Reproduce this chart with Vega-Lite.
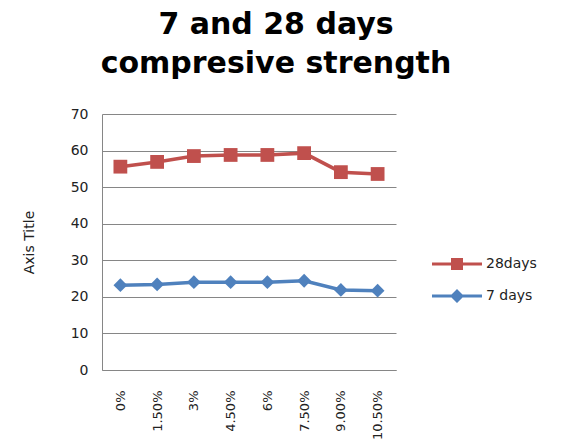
{
  "$schema": "https://vega.github.io/schema/vega-lite/v6.json",
  "width": 294,
  "height": 256,
  "autosize": {"type": "none"},
  "padding": {"left": 102, "top": 114, "right": 170, "bottom": 76},
  "background": "white",
  "view": {"stroke": null},
  "title": {
    "text": ["7 and 28 days", "compresive strength"],
    "font": "DejaVu Sans",
    "fontSize": 30,
    "fontWeight": "bold",
    "color": "#000000",
    "lineHeight": 39,
    "anchor": "middle",
    "dx": 27,
    "offset": 28
  },
  "data": {
    "values": [
      {"pct": "0%", "series": "28days", "value": 55.6},
      {"pct": "1.50%", "series": "28days", "value": 56.9},
      {"pct": "3%", "series": "28days", "value": 58.5},
      {"pct": "4.50%", "series": "28days", "value": 58.8},
      {"pct": "6%", "series": "28days", "value": 58.8},
      {"pct": "7.50%", "series": "28days", "value": 59.3},
      {"pct": "9.00%", "series": "28days", "value": 54.1},
      {"pct": "10.50%", "series": "28days", "value": 53.6},
      {"pct": "0%", "series": "7 days", "value": 23.2},
      {"pct": "1.50%", "series": "7 days", "value": 23.4},
      {"pct": "3%", "series": "7 days", "value": 24.0},
      {"pct": "4.50%", "series": "7 days", "value": 24.0},
      {"pct": "6%", "series": "7 days", "value": 24.0},
      {"pct": "7.50%", "series": "7 days", "value": 24.4},
      {"pct": "9.00%", "series": "7 days", "value": 21.9},
      {"pct": "10.50%", "series": "7 days", "value": 21.7}
    ]
  },
  "encoding": {
    "x": {
      "field": "pct",
      "type": "ordinal",
      "sort": null,
      "scale": {"type": "point", "padding": 0.5},
      "axis": {
        "title": null,
        "labelAngle": -90,
        "labelFont": "DejaVu Sans",
        "labelFontSize": 13,
        "labelColor": "#222222",
        "labelPadding": 20,
        "ticks": false,
        "domainColor": "#868686",
        "grid": false
      }
    },
    "y": {
      "field": "value",
      "type": "quantitative",
      "scale": {"domain": [0, 70], "nice": false},
      "axis": {
        "title": "Axis Title",
        "titleFont": "DejaVu Sans",
        "titleFontSize": 14,
        "titleFontWeight": "normal",
        "titleColor": "#222222",
        "titlePadding": 34,
        "values": [0, 10, 20, 30, 40, 50, 60, 70],
        "labelFont": "DejaVu Sans",
        "labelFontSize": 14,
        "labelColor": "#222222",
        "labelPadding": 14,
        "ticks": false,
        "domainColor": "#868686",
        "gridColor": "#868686",
        "gridWidth": 1
      }
    },
    "color": {
      "field": "series",
      "type": "nominal",
      "sort": ["28days", "7 days"],
      "scale": {"domain": ["28days", "7 days"], "range": ["#C0504D", "#4F81BD"]},
      "legend": {
        "title": null,
        "orient": "none",
        "legendX": 330,
        "legendY": 125,
        "labelFont": "DejaVu Sans",
        "labelFontSize": 14,
        "labelColor": "#222222",
        "labelOffset": 4,
        "symbolSize": 2500,
        "symbolStrokeWidth": 0,
        "rowPadding": -9,
        "encode": {
          "symbols": {
            "update": {
              "shape": {"signal": "datum.value === '28days' ? 'M-1,-0.06 H1 V0.06 H-1 Z M-0.24,-0.24 H0.24 V0.24 H-0.24 Z' : 'M-1,-0.06 H1 V0.06 H-1 Z M0,-0.28 L0.28,0 L0,0.28 L-0.28,0 Z'"},
              "strokeWidth": {"value": 0}
            }
          }
        }
      }
    }
  },
  "layer": [
    {
      "mark": {"type": "line", "strokeWidth": 3.5}
    },
    {
      "transform": [{"filter": "datum.series === '28days'"}],
      "mark": {"type": "point", "filled": true, "opacity": 1, "shape": "square", "size": 190}
    },
    {
      "transform": [{"filter": "datum.series === '7 days'"}],
      "mark": {"type": "point", "filled": true, "opacity": 1, "shape": "diamond", "size": 190}
    }
  ]
}
